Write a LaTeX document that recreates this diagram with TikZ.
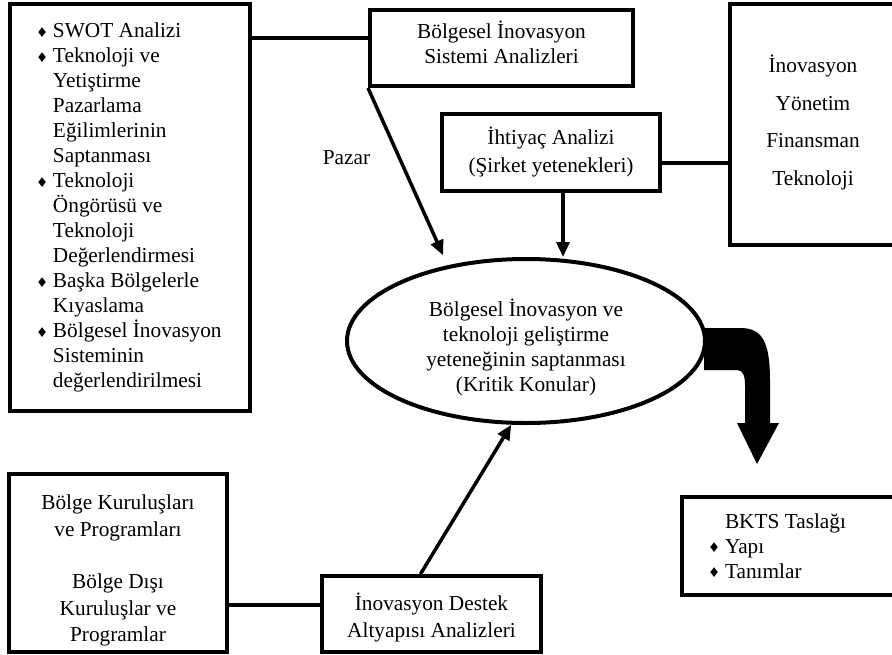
\documentclass[tikz,border=0pt]{standalone}
\usepackage{fontspec}
\setmainfont{Liberation Serif}
\newfontfamily\symfont{DejaVu Sans}
\usetikzlibrary{shapes.geometric, arrows.meta}
\tikzset{every picture/.style={line width=0.75pt}}
\newcommand{\bul}{\makebox[17pt][l]{\raisebox{0.5pt}{\symfont\fontsize{13.5}{13.5}\selectfont ♦}}}
\newcommand{\ind}{\hspace*{17pt}}

\begin{document}
\begin{tikzpicture}[x=1pt, y=-1pt, font=\fontsize{21.3}{25}\selectfont,
        box/.style={draw, line width=4pt, align=center, inner sep=0pt},
        link/.style={line width=4pt},
        arr/.style={line width=3.5pt, -{Triangle[length=15pt,width=13pt]}}]
        \useasboundingbox (0,0) rectangle (892,654);

        \node[box, minimum width=240pt, minimum height=407pt, text width=188pt, align=flush left] (swot) at (130,207.5) {%
            \bul SWOT Analizi\\
            \bul Teknoloji ve\\
            \ind Yetiştirme\\
            \ind Pazarlama\\
            \ind Eğilimlerinin\\
            \ind Saptanması\\
            \bul Teknoloji\\
            \ind Öngörüsü ve\\
            \ind Teknoloji\\
            \ind Değerlendirmesi\\
            \bul Başka Bölgelerle\\
            \ind Kıyaslama\\
            \bul Bölgesel İnovasyon\\
            \ind Sisteminin\\
            \ind değerlendirilmesi};
        \node[box, minimum width=263pt, minimum height=76pt] (sys) at (501.5,48) {Bölgesel İnovasyon\\Sistemi Analizleri\rule[-12pt]{0pt}{12pt}};
        \node[box, minimum width=218pt, minimum height=77pt, font=\fontsize{21.3}{28}\selectfont] (need) at (551,152.5) {İhtiyaç Analizi\\(Şirket yetenekleri)};
        \node[box, minimum width=166pt, minimum height=241pt, font=\fontsize{21.3}{37.5}\selectfont] (res) at (813,124.5) {İnovasyon\\Yönetim\\Finansman\\Teknoloji\rule[-9pt]{0pt}{9pt}};
        \node (mkt) at (346.5,158) {Pazar};
        \node[draw, ellipse, line width=4pt, minimum width=358pt, minimum height=164pt, align=center, inner sep=0pt] (core) at (526,341) {\rule{0pt}{30pt}Bölgesel İnovasyon ve\\teknoloji geliştirme\\yeteneğinin saptanması\\(Kritik Konular)};
        \node[box, minimum width=218pt, minimum height=178pt, font=\fontsize{21.3}{26.5}\selectfont] (reg) at (118,563) {\rule{0pt}{30pt}Bölge Kuruluşları\\ve Programları\\[26pt]Bölge Dışı\\Kuruluşlar ve\\Programlar};
        \node[box, minimum width=219pt, minimum height=76pt, font=\fontsize{21.3}{27}\selectfont] (dest) at (431.5,614) {\rule{0pt}{24pt}İnovasyon Destek\\Altyapısı Analizleri};
        \node[box, minimum width=216pt, minimum height=98pt, text width=164pt, align=flush left] (draft) at (790,546) {\ind BKTS Taslağı\\\bul Yapı\\\bul Tanımlar};

        \draw[link]
            ([yshift=10pt]sys.west -| swot.east) edge ([yshift=10pt]sys.west)
            ([yshift=-10.5pt]need.east) edge ([yshift=-10.5pt]need.east -| res.west)
            ([yshift=9pt]dest.west -| reg.east) edge ([yshift=9pt]dest.west)
            ;
        \draw[arr, shorten >=11pt] (sys.south west) -- (core.136);
        \draw[arr] ([xshift=12pt]need.south) -- ([xshift=12pt]need.south |- core.north);
        \draw[arr] ([xshift=-11pt]dest.north) -- (core.260);

        % big bent arrow towards the draft
        \begin{scope}[shift={(core.east)}]
            \fill (-3,-13) -- (33,-13) .. controls (55,-13) and (63,0) .. (63,40) -- (63,82) -- (72,82) -- (50,123) -- (30,82) -- (38,82) -- (38,44) .. controls (38,35) and (36,29) .. (30,29) -- (-3,29) -- cycle;
        \end{scope}
    \end{tikzpicture}
\end{document}
